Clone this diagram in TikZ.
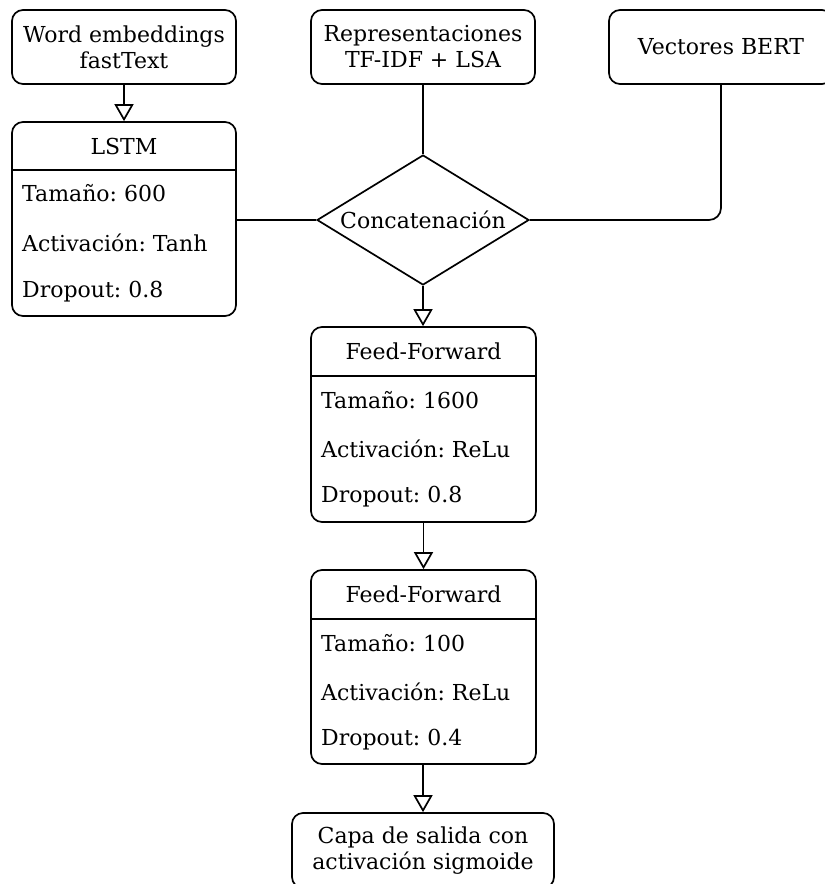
\documentclass[tikz,border=0pt]{standalone}
\usepackage{fontspec}
\setmainfont{DejaVu Serif}
\frenchspacing
\usetikzlibrary{arrows.meta,shapes.geometric}

\tikzset{
  box/.style={draw, line width=1.7pt, rounded corners=11pt, inner sep=0pt,
    align=center, font=\fontsize{22}{26}\selectfont},
  rowtext/.style={anchor=west, inner sep=0pt, font=\fontsize{22}{25}\selectfont},
  headtext/.style={inner sep=0pt, font=\fontsize{22}{25}\selectfont},
  link/.style={line width=1.7pt},
  flow/.style={line width=1.7pt, -{Triangle[open, length=17pt, width=19pt, line width=1.7pt]}},
  decision/.style={draw, diamond, line width=1.7pt, inner sep=0pt, shape aspect=1.63,
    minimum width=212pt, minimum height=130pt, font=\fontsize{22}{25}\selectfont},
}

\begin{document}
\begin{tikzpicture}[x=1pt, y=-1pt]
\clip (0,0) rectangle (825,884);

% input boxes
\node[box, minimum width=224pt, minimum height=74pt] (emb) at (124,47) {Word embeddings\\fastText};
\node[box, minimum width=224pt, minimum height=74pt] (rep) at (423,47) {Representaciones\\TF-IDF + LSA};
\node[box, minimum width=224pt, minimum height=74pt] (bert) at (721,47) {Vectores BERT};

% LSTM record
\node[box, minimum width=224pt, minimum height=194pt] (lstm) at (124,219) {};
\draw[link] (lstm.west |- 0,170) -- (lstm.east |- 0,170);
\node[headtext] (lstm-h) at (124,146) {LSTM};
\node[rowtext] (lstm-1) at (22,193) {Tamaño: 600};
\node[rowtext] (lstm-2) at (22,243) {Activación: Tanh};
\node[rowtext] (lstm-3) at (22,292) {Dropout: 0.8};

% concatenation
\node[decision] (cat) at (423,220) {Concatenación};

% first feed-forward record
\node[box, minimum width=225pt, minimum height=195pt] (ff1) at (423.5,424.5) {};
\draw[link] (ff1.west |- 0,376) -- (ff1.east |- 0,376);
\node[headtext] (ff1-h) at (423.5,351) {Feed-Forward};
\node[rowtext] (ff1-1) at (321,400) {Tamaño: 1600};
\node[rowtext] (ff1-2) at (321,449) {Activación: ReLu};
\node[rowtext] (ff1-3) at (321,497) {Dropout: 0.8};

% second feed-forward record
\node[box, minimum width=225pt, minimum height=194pt] (ff2) at (423.5,667) {};
\draw[link] (ff2.west |- 0,619) -- (ff2.east |- 0,619);
\node[headtext] (ff2-h) at (423.5,594.5) {Feed-Forward};
\node[rowtext] (ff2-1) at (321,643) {Tamaño: 100};
\node[rowtext] (ff2-2) at (321,692) {Activación: ReLu};
\node[rowtext] (ff2-3) at (321,740) {Dropout: 0.4};

% output layer
\node[box, minimum width=262pt, minimum height=75pt] (out) at (423,850.5) {Capa de salida con\\activación sigmoide};

% connectors
\draw[flow] (emb.south) -- (lstm.north);
\draw[link] (lstm.east |- cat.west) -- (cat.west);
\draw[link] (rep.south) -- (cat.north);
\draw[link, rounded corners=12pt] (bert.south) |- (cat.east);
\draw[flow] (cat.south) -- (ff1.north -| cat.south);
\draw[flow] (ff1.south) -- (ff2.north);
\draw[flow] (ff2.south -| out.north) -- (out.north);
\end{tikzpicture}
\end{document}
